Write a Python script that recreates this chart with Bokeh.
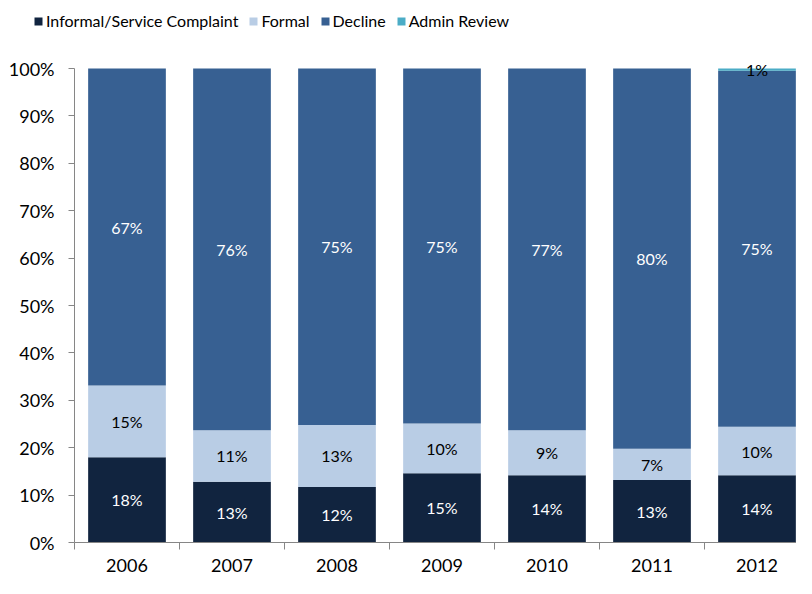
from bokeh.plotting import figure
from bokeh.layouts import column
from bokeh.models import (ColumnDataSource, Range1d, FixedTicker, NumeralTickFormatter,
                          Legend, LegendItem, LabelSet)
from bokeh.core.properties import value
from bokeh.embed import file_html
from bokeh.resources import INLINE

years = ["2006", "2007", "2008", "2009", "2010", "2011", "2012"]
informal = [18.0, 12.8, 11.7, 14.6, 14.2, 13.2, 14.2]
formal = [15.1, 10.9, 13.1, 10.5, 9.5, 6.6, 10.2]
decline = [66.9, 76.3, 75.2, 74.9, 76.3, 80.2, 75.1]
admin = [0.0, 0.0, 0.0, 0.0, 0.0, 0.0, 0.5]
informal_lbl = ["18%", "13%", "12%", "15%", "14%", "13%", "14%"]
formal_lbl = ["15%", "11%", "13%", "10%", "9%", "7%", "10%"]
decline_lbl = ["67%", "76%", "75%", "75%", "77%", "80%", "75%"]
admin_lbl = ["", "", "", "", "", "", "1%"]
series_names = ["Informal/Service Complaint", "Formal", "Decline", "Admin Review"]
colors = ["#11243f", "#b9cde5", "#376092", "#4bacc6"]
label_colors = ["white", "black", "white", "black"]

FONT = "Lato"
xs = list(range(len(years)))
series = [informal, formal, decline, admin]
labels = [informal_lbl, formal_lbl, decline_lbl, admin_lbl]

cat_px = 105
width = 796
leg_h = 46
main_h = 532
left, top, bottom = 74, 13, 36
frame_w = width - left
frame_h = main_h - top - bottom
px_per_unit = 474  # pixels for 0..100%

# ---- stacked data ----
sources = []
lx, ly, lt, lc = [], [], [], []
base = [0.0] * len(years)
for vals, lbls, tcol in zip(series, labels, label_colors):
    fr = [v / 100 for v in vals]
    top_ = [b + f for b, f in zip(base, fr)]
    sources.append(ColumnDataSource(dict(x=xs, bottom=base, top=top_)))
    for i in range(len(years)):
        if lbls[i]:
            lx.append(xs[i]); ly.append((base[i] + top_[i]) / 2)
            lt.append(lbls[i]); lc.append(tcol)
    base = top_

# ---- legend strip ----
lg = figure(width=width, height=leg_h, output_backend="svg", toolbar_location=None,
            x_range=Range1d(0, 1), y_range=Range1d(0, 1), x_axis_type=None, y_axis_type=None,
            min_border=0)
lg.frame_align = False
lg.outline_line_color = None
lg.xgrid.visible = False
lg.ygrid.visible = False
leg_items = []
for name, col, src in zip(series_names, colors, sources):
    r = lg.vbar(x="x", bottom="bottom", top="top", width=0.74, source=src,
                fill_color=col, line_color=None, visible=False)
    leg_items.append(LegendItem(label=name, renderers=[r]))
legend = Legend(items=leg_items, orientation="horizontal", location=(33, 16),
                glyph_width=10, glyph_height=10, label_standoff=3, spacing=10,
                padding=2, margin=0, border_line_color=None, background_fill_alpha=0,
                label_text_font=FONT, label_text_font_size="16px", label_text_color="#000000")
lg.add_layout(legend, "center")

# ---- main chart ----
p = figure(width=width, height=main_h, output_backend="svg", toolbar_location=None,
           x_range=Range1d(-0.5, -0.5 + frame_w / cat_px),
           y_range=Range1d(0, frame_h / px_per_unit),
           min_border_left=left, min_border_right=0, min_border_top=top,
           min_border_bottom=bottom)
p.outline_line_color = None
p.xgrid.visible = False
p.ygrid.visible = False
p.background_fill_color = "white"
p.border_fill_color = "white"

for col, src in zip(colors, sources):
    p.vbar(x="x", bottom="bottom", top="top", width=0.74, source=src,
           fill_color=col, line_color=None)

lsrc = ColumnDataSource(dict(x=lx, y=ly, text=lt, color=lc))
p.add_layout(LabelSet(x="x", y="y", text="text", source=lsrc, text_color="color",
                      text_align="center", text_baseline="middle",
                      text_font=value(FONT), text_font_size="16px"))

# y axis
p.yaxis.bounds = (0, 1)
p.yaxis.ticker = FixedTicker(ticks=[i / 10 for i in range(11)])
p.yaxis.formatter = NumeralTickFormatter(format="0%")
p.yaxis.axis_line_color = "#868686"
p.yaxis.major_tick_line_color = "#868686"
p.yaxis.major_tick_out = 6
p.yaxis.major_tick_in = 0
p.yaxis.minor_tick_line_color = None
p.yaxis.major_label_standoff = 14
p.yaxis.major_label_text_font = FONT
p.yaxis.major_label_text_font_size = "18px"
p.yaxis.major_label_text_color = "#000000"

# x axis
p.xaxis.ticker = FixedTicker(ticks=xs, minor_ticks=[i - 0.5 for i in range(len(years) + 1)])
p.xaxis.major_label_overrides = {i: y for i, y in zip(xs, years)}
p.xaxis.axis_line_color = "#868686"
p.xaxis.major_tick_out = 0
p.xaxis.major_tick_in = 0
p.xaxis.minor_tick_line_color = "#868686"
p.xaxis.minor_tick_out = 7
p.xaxis.minor_tick_in = 0
p.xaxis.major_label_standoff = 9
p.xaxis.axis_label_standoff = 0
p.xaxis.major_label_text_font = FONT
p.xaxis.major_label_text_font_size = "18px"
p.xaxis.major_label_text_color = "#000000"

layout = column(lg, p, spacing=0)
open("out.html", "w").write(file_html(layout, INLINE))
